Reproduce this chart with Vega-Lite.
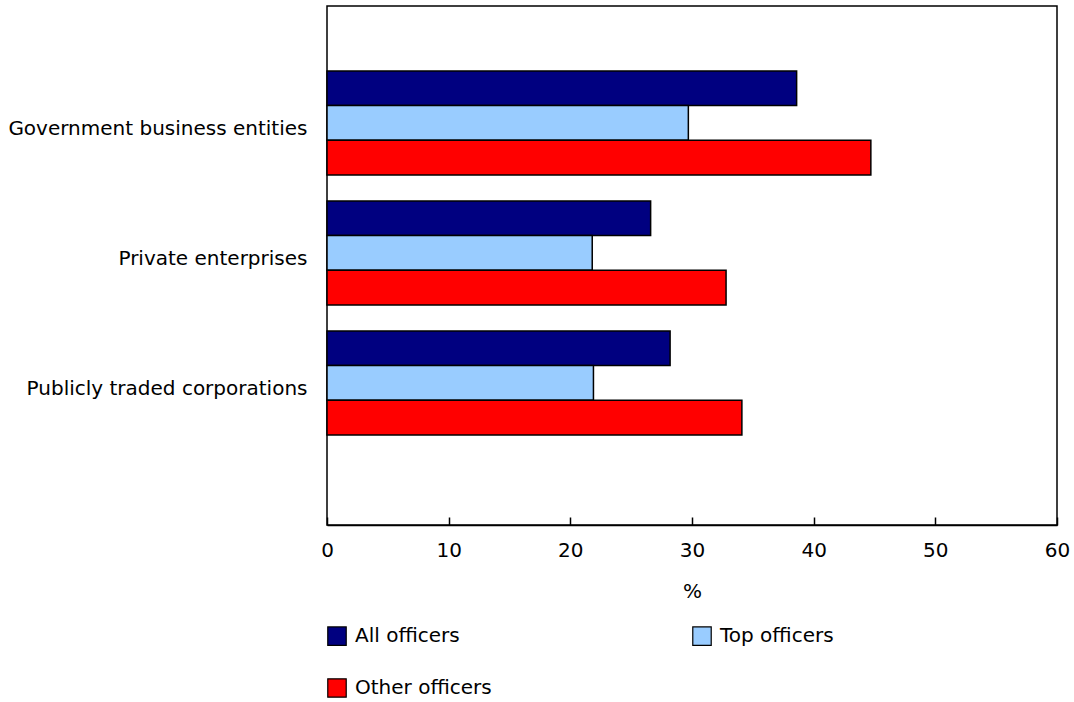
{
  "$schema": "https://vega.github.io/schema/vega-lite/v6.json",
  "width": 730,
  "height": 519,
  "autosize": {"type": "none"},
  "padding": {"left": 327, "top": 6, "right": 17, "bottom": 177},
  "background": "white",
  "config": {
    "font": "DejaVu Sans",
    "view": {"stroke": "#000000", "strokeWidth": 1.5},
    "axis": {"labelFont": "DejaVu Sans", "titleFont": "DejaVu Sans", "labelColor": "#000", "titleColor": "#000"},
    "legend": {"labelFont": "DejaVu Sans", "labelColor": "#000"}
  },
  "data": {
    "values": [
      {"category": "Government business entities", "series": "All officers", "value": 38.6},
      {"category": "Government business entities", "series": "Top officers", "value": 29.7},
      {"category": "Government business entities", "series": "Other officers", "value": 44.7},
      {"category": "Private enterprises", "series": "All officers", "value": 26.6},
      {"category": "Private enterprises", "series": "Top officers", "value": 21.8},
      {"category": "Private enterprises", "series": "Other officers", "value": 32.8},
      {"category": "Publicly traded corporations", "series": "All officers", "value": 28.2},
      {"category": "Publicly traded corporations", "series": "Top officers", "value": 21.9},
      {"category": "Publicly traded corporations", "series": "Other officers", "value": 34.1}
    ]
  },
  "mark": {"type": "bar", "stroke": "#000000", "strokeWidth": 1.5},
  "encoding": {
    "y": {
      "field": "category",
      "type": "nominal",
      "sort": ["Government business entities", "Private enterprises", "Publicly traded corporations"],
      "scale": {"paddingInner": 0.2, "paddingOuter": 0.596, "align": 0.419},
      "axis": {"title": null, "ticks": false, "domain": false, "labelPadding": 20, "labelOffset": 6, "labelFontSize": 20, "labelLimit": 400}
    },
    "yOffset": {
      "field": "series",
      "type": "nominal",
      "sort": ["All officers", "Top officers", "Other officers"],
      "scale": {"paddingInner": 0, "paddingOuter": 0}
    },
    "x": {
      "field": "value",
      "type": "quantitative",
      "scale": {"domain": [0, 60], "nice": false},
      "axis": {
        "title": "%",
        "titleFontSize": 20,
        "titleFontWeight": "normal",
        "titlePadding": 21,
        "values": [0, 10, 20, 30, 40, 50, 60],
        "labelFontSize": 20,
        "labelPadding": 23,
        "labelFlush": false,
        "tickSize": -8,
        "tickColor": "#000",
        "tickWidth": 1.5,
        "domainColor": "#000",
        "domainWidth": 1.5,
        "grid": false
      }
    },
    "color": {
      "field": "series",
      "type": "nominal",
      "sort": ["All officers", "Top officers", "Other officers"],
      "scale": {"domain": ["All officers", "Top officers", "Other officers"], "range": ["#000080", "#99CCFF", "#FF0000"]},
      "legend": {
        "title": null,
        "orient": "none",
        "legendX": 0,
        "legendY": 620,
        "direction": "horizontal",
        "columns": 2,
        "columnPadding": 198,
        "rowPadding": 28,
        "symbolType": "square",
        "symbolSize": 340,
        "symbolStrokeColor": "#000",
        "symbolStrokeWidth": 1.2,
        "labelFontSize": 20,
        "labelOffset": 8
      }
    }
  }
}
